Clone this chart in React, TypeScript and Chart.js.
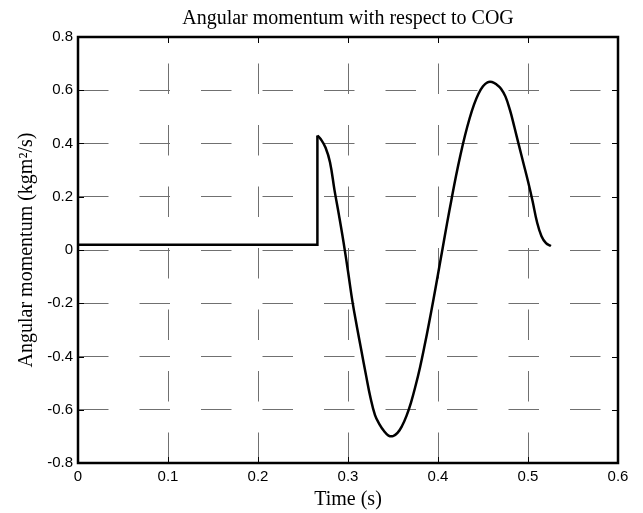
import React, { useEffect, useRef } from "react";
import { Chart, registerables } from "chart.js";

Chart.register(...registerables);

// ---- data ----
const titleText = "Angular momentum with respect to COG";
const xAxisTitle = "Time (s)";
const yAxisTitle = "Angular momentum (kgm\u00B2/s)";

const xTickValues = [0, 0.1, 0.2, 0.3, 0.4, 0.5, 0.6];
const xTickLabels = ["0", "0.1", "0.2", "0.3", "0.4", "0.5", "0.6"];
const yTickValues = [-0.8, -0.6, -0.4, -0.2, 0, 0.2, 0.4, 0.6, 0.8];
const yTickLabels = ["-0.8", "-0.6", "-0.4", "-0.2", "0", "0.2", "0.4", "0.6", "0.8"];

// flat part followed by the step
const stepTime = [0, 0.266, 0.266];
const stepValue = [0.02, 0.02, 0.43];

// oscillating part
const waveTime = [
  0.266, 0.27, 0.275, 0.28, 0.285, 0.29, 0.295, 0.3, 0.305, 0.31, 0.315, 0.32,
  0.325, 0.33, 0.335, 0.34, 0.345, 0.35, 0.355, 0.36, 0.365, 0.37, 0.375, 0.38,
  0.385, 0.39, 0.395, 0.4, 0.405, 0.41, 0.415, 0.42, 0.425, 0.43, 0.435, 0.44,
  0.445, 0.45, 0.455, 0.46, 0.465, 0.47, 0.475, 0.48, 0.485, 0.49, 0.495, 0.5,
  0.505, 0.51, 0.515, 0.52, 0.5255,
];
const waveValue = [
  0.43, 0.415, 0.385, 0.33, 0.225, 0.13, 0.03, -0.08, -0.195, -0.29, -0.38, -0.47,
  -0.555, -0.62, -0.655, -0.68, -0.697, -0.699, -0.687, -0.661, -0.623, -0.573, -0.511, -0.441,
  -0.361, -0.275, -0.185, -0.091, 0.004, 0.099, 0.19, 0.278, 0.358, 0.43, 0.493, 0.546,
  0.587, 0.615, 0.63, 0.631, 0.622, 0.606, 0.576, 0.525, 0.46, 0.392, 0.325, 0.258,
  0.185, 0.105, 0.052, 0.026, 0.015,
];

const labelFor = (values: number[], labels: string[], v: number) => {
  const i = values.findIndex((t) => Math.abs(t - v) < 1e-6);
  return i >= 0 ? labels[i] : "";
};

const boxPlugin = {
  id: "matlabBox",
  afterDraw(chart: any) {
    const { ctx, chartArea: a, scales } = chart;
    const tl = 6;
    ctx.save();
    ctx.strokeStyle = "#000";
    ctx.lineWidth = 1;
    ctx.beginPath();
    scales.x.ticks.forEach((t: any) => {
      const px = Math.round(scales.x.getPixelForValue(t.value)) + 0.5;
      ctx.moveTo(px, a.top);
      ctx.lineTo(px, a.top + tl);
      ctx.moveTo(px, a.bottom);
      ctx.lineTo(px, a.bottom - tl);
    });
    scales.y.ticks.forEach((t: any) => {
      const py = Math.round(scales.y.getPixelForValue(t.value)) + 0.5;
      ctx.moveTo(a.left, py);
      ctx.lineTo(a.left + tl, py);
      ctx.moveTo(a.right, py);
      ctx.lineTo(a.right - tl, py);
    });
    ctx.stroke();
    ctx.lineWidth = 2.5;
    ctx.strokeRect(a.left, a.top, a.right - a.left, a.bottom - a.top);
    ctx.restore();
  },
};

export default function App() {
  const canvasRef = useRef<HTMLCanvasElement | null>(null);

  useEffect(() => {
    if (!canvasRef.current) return;
    const sans = '"Liberation Sans", Arial, sans-serif';
    const serif = '"Liberation Serif", "Times New Roman", serif';
    const chart = new Chart(canvasRef.current, {
      type: "line",
      data: {
        datasets: [
          {
            data: stepTime.map((t, i) => ({ x: t, y: stepValue[i] })),
            borderColor: "#000",
            borderWidth: 2.5,
            pointRadius: 0,
            tension: 0,
            fill: false,
          },
          {
            data: waveTime.map((t, i) => ({ x: t, y: waveValue[i] })),
            borderColor: "#000",
            borderWidth: 2.5,
            pointRadius: 0,
            tension: 0.4,
            borderJoinStyle: "round",
            fill: false,
          },
        ],
      },
      options: {
        animation: false,
        responsive: false,
        devicePixelRatio: 1,
        layout: { padding: { left: 0, right: 25, top: 0, bottom: 0 } },
        plugins: {
          legend: { display: false },
          tooltip: { enabled: false },
          title: {
            display: true,
            text: titleText,
            fullSize: false,
            color: "#000",
            font: { family: serif, size: 20, weight: "normal" },
            padding: { top: 6.25, bottom: 6.75 },
          },
        },
        scales: {
          x: {
            type: "linear",
            min: 0,
            max: 0.6,
            afterFit: (s: any) => {
              s.height = 50;
            },
            afterBuildTicks: (s: any) => {
              s.ticks = xTickValues.map((v) => ({ value: v }));
            },
            border: { display: false, dash: [30.5, 31], dashOffset: 35 },
            grid: { color: "#707070", lineWidth: 1, drawTicks: false },
            ticks: {
              color: "#000",
              padding: 5,
              maxRotation: 0,
              autoSkip: false,
              font: { family: sans, size: 15 },
              callback: (v: any) => labelFor(xTickValues, xTickLabels, Number(v)),
            },
            title: {
              display: true,
              text: xAxisTitle,
              color: "#000",
              font: { family: serif, size: 20, weight: "normal" },
              padding: { top: 0, bottom: 1.75 },
            },
          },
          y: {
            type: "linear",
            min: -0.8,
            max: 0.8,
            afterFit: (s: any) => {
              s.width = 78;
            },
            afterBuildTicks: (s: any) => {
              s.ticks = yTickValues.map((v) => ({ value: v }));
            },
            border: { display: false, dash: [30.5, 31], dashOffset: 0 },
            grid: { color: "#707070", lineWidth: 1, drawTicks: false },
            ticks: {
              color: "#000",
              padding: 5,
              autoSkip: false,
              font: { family: sans, size: 15 },
              callback: (v: any) => labelFor(yTickValues, yTickLabels, Number(v)),
            },
            title: {
              display: true,
              text: yAxisTitle,
              color: "#000",
              font: { family: serif, size: 20, weight: "normal" },
              padding: { top: 14.25, bottom: 0 },
            },
          },
        },
      },
      plugins: [boxPlugin],
    } as any);
    return () => chart.destroy();
  }, []);

  return (
    <div
      style={{
        position: "absolute",
        left: 0,
        top: 0,
        width: 643,
        height: 513,
        background: "#fff",
      }}
    >
      <canvas ref={canvasRef} width={643} height={513} />
    </div>
  );
}
